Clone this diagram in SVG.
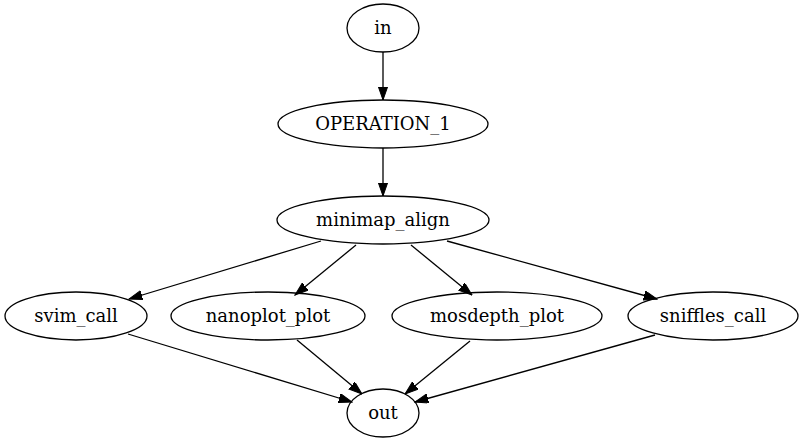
<svg xmlns="http://www.w3.org/2000/svg" width="805" height="443" viewBox="0 0 805 443">
<style>
ellipse{fill:none;stroke:#000;stroke-width:1.3}
text{font-family:"DejaVu Serif","Liberation Serif",serif;font-size:18px;text-anchor:middle;fill:#000}
.e line{stroke:#000;stroke-width:1.3;marker-end:url(#ah)}
</style>
<defs>
<marker id="ah" markerUnits="userSpaceOnUse" markerWidth="14" markerHeight="10" refX="13.3" refY="4.67" orient="auto" viewBox="0 0 14 10">
<path d="M0,0 L13.3,4.67 L0,9.33 z" fill="#000" stroke="#000" stroke-width="1"/>
</marker>
</defs>
<rect width="805" height="443" fill="#fff"/>
<g class="e" id="edges">
<line x1="383" y1="52" x2="383" y2="100"/>
<line x1="383" y1="148" x2="383" y2="196"/>
<line x1="321" y1="241" x2="129" y2="299"/>
<line x1="356" y1="245" x2="295" y2="295"/>
<line x1="411" y1="245" x2="472" y2="295"/>
<line x1="447" y1="241" x2="657" y2="299"/>
<line x1="128" y1="334" x2="352" y2="402"/>
<line x1="297" y1="340" x2="362" y2="394"/>
<line x1="470" y1="341" x2="405" y2="394"/>
<line x1="655" y1="335" x2="415" y2="402"/>
</g>
<g id="in"><ellipse cx="383" cy="28" rx="36" ry="24"/><text x="383" y="34">in</text></g>
<g id="OPERATION_1"><ellipse cx="383" cy="124" rx="105" ry="24"/><text x="383" y="130">OPERATION_1</text></g>
<g id="minimap_align"><ellipse cx="383" cy="220" rx="106" ry="24"/><text x="383" y="226">minimap_align</text></g>
<g id="svim_call"><ellipse cx="76" cy="316" rx="71" ry="24"/><text x="76" y="322">svim_call</text></g>
<g id="nanoplot_plot"><ellipse cx="268" cy="316" rx="97" ry="24"/><text x="268" y="322">nanoplot_plot</text></g>
<g id="mosdepth_plot"><ellipse cx="497" cy="316" rx="105" ry="24"/><text x="497" y="322">mosdepth_plot</text></g>
<g id="sniffles_call"><ellipse cx="713" cy="316" rx="85" ry="24"/><text x="713" y="322">sniffles_call</text></g>
<g id="out"><ellipse cx="383" cy="413" rx="36" ry="24"/><text x="383" y="419">out</text></g>
</svg>
